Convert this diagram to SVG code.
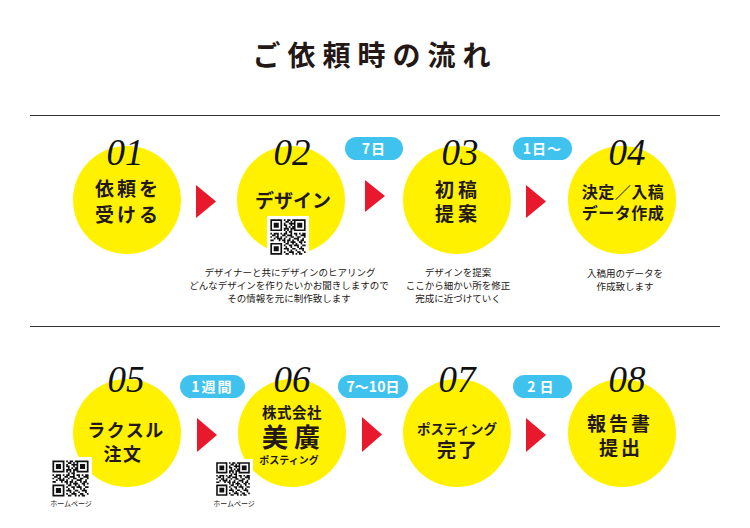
<svg xmlns="http://www.w3.org/2000/svg" xmlns:xlink="http://www.w3.org/1999/xlink" width="750" height="528" viewBox="0 0 750 528">
<style>
.jp{font-family:"Noto Sans CJK JP","Noto Sans",sans-serif;fill:#231815}
.b{font-weight:bold}
.num{font-family:"Liberation Serif",serif;font-style:italic;font-size:37px;fill:#111;text-anchor:middle}
.circ{fill:#fff100}
.tri{fill:#e8192c}
.pill{fill:#3fc3ee}
.pt{font-family:"Noto Sans CJK JP","Noto Sans",sans-serif;font-weight:bold;font-size:14px;fill:#fff;text-anchor:middle}
.ct{text-anchor:middle}
.desc{font-family:"Noto Sans CJK JP","Noto Sans",sans-serif;font-size:9.5px;fill:#231815;text-anchor:middle}
.hp{font-family:"Noto Sans CJK JP","Noto Sans",sans-serif;font-size:7px;fill:#231815;text-anchor:middle}
.rule{stroke:#333;stroke-width:1}
</style>
<defs>
<symbol id="qr" viewBox="-2 -2 25 25">
<rect x="-2" y="-2" width="25" height="25" fill="#fff"/>
<path fill="#111" fill-rule="evenodd" d="M0 0h7v7h-7z M1 1h5v5h-5z M2 2h3v3h-3z M14 0h7v7h-7z M15 1h5v5h-5z M16 2h3v3h-3z M0 14h7v7h-7z M1 15h5v5h-5z M2 16h3v3h-3z
M8 0h1v1h-1z M10 0h2v1h-2z M13 0h1v1h-1z
M9 1h2v1h-2z M12 1h1v1h-1z
M8 2h1v1h-1z M11 2h3v1h-3z
M8 3h2v1h-2z M12 3h1v1h-1z
M9 4h1v1h-1z M11 4h1v1h-1z M13 4h1v1h-1z
M8 5h3v1h-3z M12 5h2v1h-2z
M8 6h1v1h-1z M10 6h1v1h-1z M12 6h1v1h-1z
M9 7h1v1h-1z M11 7h2v1h-2z
M0 8h1v1h-1z M2 8h3v1h-3z M6 8h1v1h-1z M8 8h2v1h-2z M12 8h1v1h-1z M14 8h2v1h-2z M17 8h1v1h-1z M19 8h2v1h-2z
M1 9h2v1h-2z M4 9h1v1h-1z M7 9h2v1h-2z M10 9h3v1h-3z M15 9h1v1h-1z M18 9h3v1h-3z
M0 10h1v1h-1z M3 10h2v1h-2z M6 10h1v1h-1z M9 10h1v1h-1z M12 10h2v1h-2z M16 10h2v1h-2z M20 10h1v1h-1z
M2 11h1v1h-1z M4 11h3v1h-3z M8 11h1v1h-1z M11 11h1v1h-1z M14 11h3v1h-3z M19 11h1v1h-1z
M0 12h2v1h-2z M5 12h1v1h-1z M7 12h2v1h-2z M10 12h2v1h-2z M13 12h1v1h-1z M16 12h1v1h-1z M18 12h2v1h-2z
M8 13h1v1h-1z M10 13h1v1h-1z M12 13h3v1h-3z M17 13h2v1h-2z M20 13h1v1h-1z
M9 14h2v1h-2z M13 14h1v1h-1z M15 14h1v1h-1z M18 14h1v1h-1z
M8 15h1v1h-1z M11 15h2v1h-2z M14 15h3v1h-3z M19 15h2v1h-2z
M9 16h1v1h-1z M12 16h1v1h-1z M16 16h1v1h-1z M18 16h1v1h-1z
M8 17h3v1h-3z M13 17h2v1h-2z M17 17h3v1h-3z
M10 18h1v1h-1z M12 18h1v1h-1z M15 18h1v1h-1z M19 18h1v1h-1z
M8 19h1v1h-1z M11 19h3v1h-3z M16 19h2v1h-2z M20 19h1v1h-1z
M9 20h2v1h-2z M13 20h1v1h-1z M15 20h1v1h-1z M17 20h2v1h-2z"/>
</symbol>
</defs>
<rect width="750" height="528" fill="#fff"/>

<text class="jp b" x="375" y="66" font-size="28" letter-spacing="7" text-anchor="middle">ご依頼時の流れ</text>
<line class="rule" x1="30" y1="115.5" x2="720" y2="115.5"/>
<line class="rule" x1="30" y1="326.5" x2="720" y2="326.5"/>

<g id="connectors">
<polygon class="tri" points="196,185 216,201.5 196,218"/>
<polygon class="tri" points="365,180 385,196 365,212"/>
<polygon class="tri" points="526,185 546,201.5 526,218"/>
<polygon class="tri" points="197,418 217,435 197,452"/>
<polygon class="tri" points="362,417 382,434.5 362,452"/>
<polygon class="tri" points="526,418 546,435 526,452"/>
<g id="pill-7d"><rect class="pill" x="345" y="137" width="58" height="23" rx="11.5"/><text class="pt" x="374" y="154" letter-spacing="1">7日</text></g>
<g id="pill-1d"><rect class="pill" x="513" y="137" width="59" height="23" rx="11.5"/><text class="pt" x="542.5" y="154" letter-spacing="1">1日〜</text></g>
<g id="pill-1w"><rect class="pill" x="180" y="375" width="65" height="23" rx="11.5"/><text class="pt" x="212.5" y="392" letter-spacing="2">1週間</text></g>
<g id="pill-7-10d"><rect class="pill" x="338" y="375" width="70" height="23" rx="11.5"/><text class="pt" x="373" y="392">7〜10日</text></g>
<g id="pill-2d"><rect class="pill" x="513" y="375" width="59" height="23" rx="11.5"/><text class="pt" x="542.5" y="392" letter-spacing="4">2日</text></g>
</g>

<g id="step01">
<circle class="circ" cx="127" cy="200" r="54"/>
<text class="num" x="125" y="165">01</text>
<text class="jp b ct" x="128" y="196" font-size="19" letter-spacing="3">依頼を</text>
<text class="jp b ct" x="128" y="222" font-size="19" letter-spacing="3">受ける</text>
</g>

<g id="step02">
<circle class="circ" cx="291" cy="200" r="54"/>
<text class="num" x="292" y="165">02</text>
<text class="jp b ct" x="293" y="208" font-size="19">デザイン</text>
<use href="#qr" xlink:href="#qr" x="267" y="216" width="42" height="42"/>
<text class="desc" x="290" y="276">デザイナーと共にデザインのヒアリング</text>
<text class="desc" x="289" y="289">どんなデザインを作りたいかお聞きしますので</text>
<text class="desc" x="289" y="302">その情報を元に制作致します</text>
</g>

<g id="step03">
<circle class="circ" cx="457" cy="200" r="54"/>
<text class="num" x="460" y="165">03</text>
<text class="jp b ct" x="458" y="197" font-size="19" letter-spacing="4">初稿</text>
<text class="jp b ct" x="458" y="221" font-size="19" letter-spacing="4">提案</text>
<text class="desc" x="458" y="276">デザインを提案</text>
<text class="desc" x="458" y="289">ここから細かい所を修正</text>
<text class="desc" x="458" y="302">完成に近づけていく</text>
</g>

<g id="step04">
<circle class="circ" cx="622" cy="200" r="54"/>
<text class="num" x="627" y="165">04</text>
<text class="jp b ct" x="623" y="198" font-size="16" letter-spacing="0.5">決定／入稿</text>
<text class="jp b ct" x="623" y="219" font-size="16" letter-spacing="0.5">データ作成</text>
<text class="desc" x="625" y="277">入稿用のデータを</text>
<text class="desc" x="625" y="290">作成致します</text>
</g>

<g id="step05">
<circle class="circ" cx="127" cy="433" r="54"/>
<text class="num" x="126" y="392">05</text>
<text class="jp b ct" x="126" y="437" font-size="18" letter-spacing="1.5">ラクスル</text>
<text class="jp b ct" x="123" y="461" font-size="18" letter-spacing="1.5">注文</text>
<use href="#qr" xlink:href="#qr" x="49" y="457" width="43" height="43"/>
<text class="hp" x="71" y="506">ホームページ</text>
</g>

<g id="step06">
<circle class="circ" cx="292" cy="433" r="54"/>
<text class="num" x="292" y="392">06</text>
<text class="jp b ct" x="292" y="418" font-size="14.5" letter-spacing="0.5">株式会社</text>
<text class="jp b ct" x="294" y="447" font-size="26" letter-spacing="6">美廣</text>
<text class="jp b ct" x="289" y="464" font-size="10">ポスティング</text>
<use href="#qr" xlink:href="#qr" x="213" y="459" width="40" height="40"/>
<text class="hp" x="234" y="506">ホームページ</text>
</g>

<g id="step07">
<circle class="circ" cx="457" cy="433" r="54"/>
<text class="num" x="457" y="392">07</text>
<text class="jp b ct" x="457" y="434" font-size="13.5">ポスティング</text>
<text class="jp b ct" x="458" y="457" font-size="19" letter-spacing="2">完了</text>
</g>

<g id="step08">
<circle class="circ" cx="622" cy="433" r="54"/>
<text class="num" x="627" y="392">08</text>
<text class="jp b ct" x="620" y="431" font-size="19" letter-spacing="3">報告書</text>
<text class="jp b ct" x="621" y="455" font-size="19" letter-spacing="3">提出</text>
</g>
</svg>
